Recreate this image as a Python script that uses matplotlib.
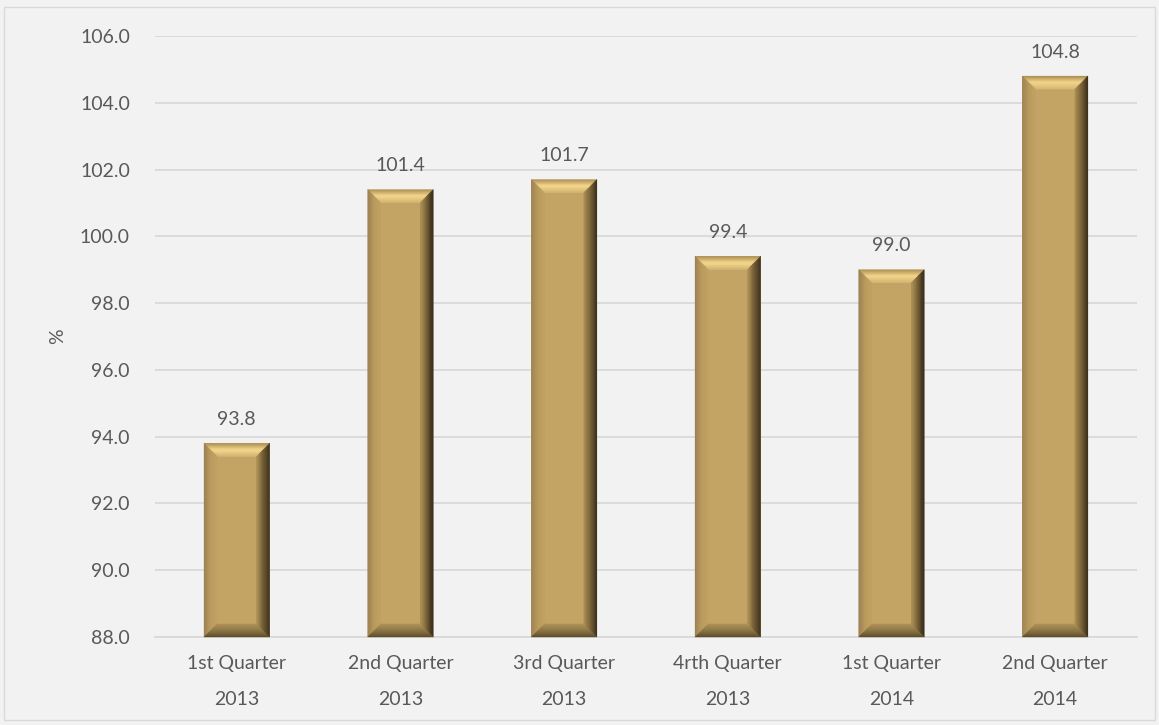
import numpy as np
import matplotlib.pyplot as plt
from matplotlib.patches import Polygon, Rectangle
from matplotlib.transforms import IdentityTransform

categories = ['1st Quarter\n2013', '2nd Quarter\n2013', '3rd Quarter\n2013',
              '4rth Quarter\n2013', '1st Quarter\n2014', '2nd Quarter\n2014']
values = [93.8, 101.4, 101.7, 99.4, 99.0, 104.8]
y_ticks = [88.0, 90.0, 92.0, 94.0, 96.0, 98.0, 100.0, 102.0, 104.0, 106.0]

plt.rcParams['font.family'] = ['Lato', 'DejaVu Sans']
text_color = '#595959'
face_color = '#C4A465'

fig = plt.figure(figsize=(11.59, 7.25), dpi=100, facecolor='#F2F2F2')
ax = fig.add_axes([0.1337, 0.1214, 0.8473, 0.8289])
ax.set_facecolor('#F2F2F2')

x = np.arange(len(values))
bars = ax.bar(x, [v - 88.0 for v in values], bottom=88.0, width=0.4,
              color=face_color, edgecolor='none', zorder=3)

ax.set_xlim(-0.5, len(values) - 0.5)
ax.set_ylim(88.0, 106.0)
ax.set_yticks(y_ticks)
ax.set_yticklabels(['%.1f' % t for t in y_ticks])
ax.set_xticks(x)
ax.set_xticklabels(categories, linespacing=2.35)
ax.tick_params(length=0, labelsize=14, colors=text_color, pad=13)
ax.tick_params(axis='y', pad=18)
ax.grid(axis='y', color='#D9D9D9', linewidth=1.3, zorder=0)
for s in ['top', 'right', 'left']:
    ax.spines[s].set_visible(False)
ax.spines['bottom'].set_color('#D9D9D9')
ax.spines['bottom'].set_linewidth(1.3)
ax.set_ylabel('%', fontsize=14, color=text_color, labelpad=10)

for xi, v in zip(x, values):
    ax.annotate('%.1f' % v, (xi, v), xytext=(0, 11), textcoords='offset points',
                ha='center', va='bottom', fontsize=14, color=text_color)


def mix(c1, c2, t):
    a = np.array(plt.matplotlib.colors.to_rgb(c1))
    b = np.array(plt.matplotlib.colors.to_rgb(c2))
    return tuple(a + (b - a) * t)


# bevel edges drawn in pixel space around each bar
fig.canvas.draw()
depth = 13
steps = 12
sides = {
    'top': ['#A88A52', '#F8DA8E', '#D4B775'],
    'left': ['#9A8050', '#B89A5E', '#C2A263'],
    'right': ['#2F2616', '#6E5A33', '#AE9056'],
    'bottom': ['#5A4A2B', '#857040', '#B09258'],
}
for b in bars:
    x0, y0 = ax.transData.transform((b.get_x(), b.get_y()))
    x1, y1 = ax.transData.transform((b.get_x() + b.get_width(), b.get_y() + b.get_height()))
    for i in range(steps):
        d0 = depth * i / steps
        d1 = depth * (i + 1) / steps
        t = (i + 0.5) / steps
        for side, cols in sides.items():
            if t < 0.5:
                c = mix(cols[0], cols[1], t / 0.5)
            else:
                c = mix(cols[1], cols[2], (t - 0.5) / 0.5)
            if side == 'top':
                pts = [(x0 + d0, y1 - d0), (x1 - d0, y1 - d0), (x1 - d1, y1 - d1), (x0 + d1, y1 - d1)]
            elif side == 'bottom':
                pts = [(x0 + d0, y0 + d0), (x1 - d0, y0 + d0), (x1 - d1, y0 + d1), (x0 + d1, y0 + d1)]
            elif side == 'left':
                pts = [(x0 + d0, y0 + d0), (x0 + d0, y1 - d0), (x0 + d1, y1 - d1), (x0 + d1, y0 + d1)]
            else:
                pts = [(x1 - d0, y0 + d0), (x1 - d0, y1 - d0), (x1 - d1, y1 - d1), (x1 - d1, y0 + d1)]
            fig.add_artist(Polygon(pts, closed=True, facecolor=c, edgecolor=c,
                                   linewidth=0.3, transform=IdentityTransform(), zorder=4))

fig.add_artist(Rectangle((4 / 1159, 1 - 720 / 725), 1151 / 1159, 713 / 725,
                         transform=fig.transFigure, fill=False,
                         edgecolor='#D9D9D9', linewidth=1.0))

plt.savefig('out.png', dpi=100, facecolor=fig.get_facecolor())
